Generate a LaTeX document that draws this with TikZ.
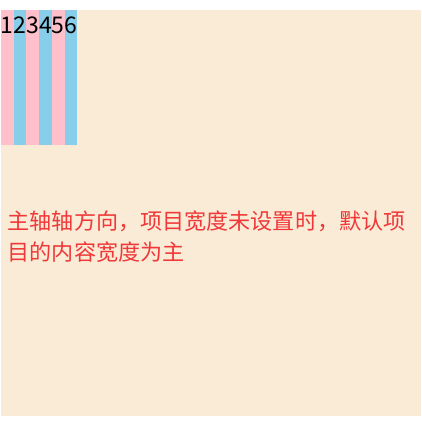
\documentclass[tikz,border=0pt]{standalone}
\usepackage{fontspec}
\setmainfont{Noto Sans CJK SC}
\usepackage{tikz}

\definecolor{boxbeige}{RGB}{250,235,215}
\definecolor{stripepink}{RGB}{255,192,203}
\definecolor{stripeblue}{RGB}{135,206,235}
\definecolor{notered}{RGB}{240,56,56}

\begin{document}
\begin{tikzpicture}[x=1pt,y=-1pt,
  stripe/.style={minimum width=12.7pt, minimum height=135pt,
    inner sep=0pt, outer sep=0pt, anchor=north west},
  digit/.style={font=\fontsize{23}{28}\selectfont, inner sep=0pt, anchor=base},
  note/.style={font=\fontsize{22.1}{31}\selectfont, text=notered,
    inner sep=0pt, anchor=base west}]
  \useasboundingbox (0,0) rectangle (421,422);
  % container
  \fill[boxbeige] (1,10) rectangle (421,415.5);
  % items
  \foreach \i/\c in {1/stripepink,2/stripeblue,3/stripepink,
                     4/stripeblue,5/stripepink,6/stripeblue} {
    \node[stripe, fill=\c] (s\i) at ({1+(\i-1)*12.7},10) {};
    \node[digit] (d\i) at ([yshift=-23.3pt]s\i.north) {\i};
  }
  % caption
  \node[note] (line1) at (7.5,229) {主轴轴方向，项目宽度未设置时，默认项};
  \node[note] (line2) at (7.5,260.5) {目的内容宽度为主};
\end{tikzpicture}
\end{document}
